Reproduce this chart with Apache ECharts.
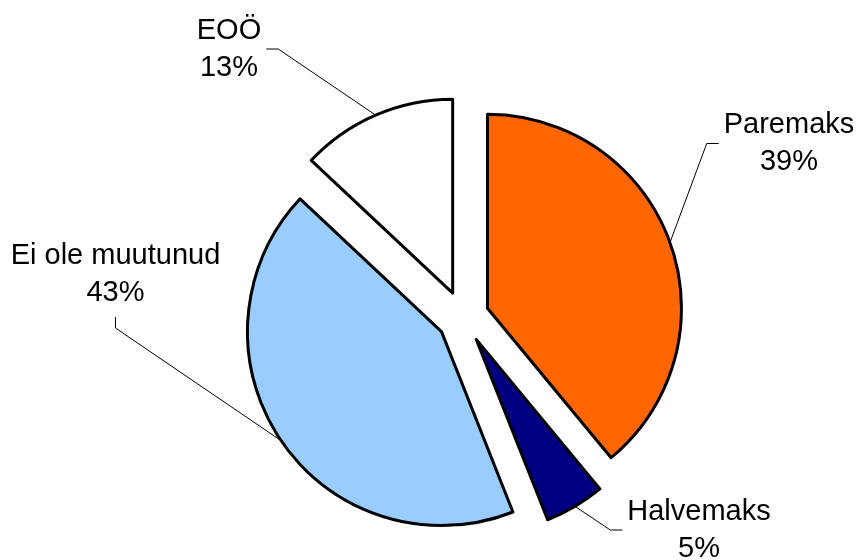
<!DOCTYPE html>
<html>
<head>
<meta charset="utf-8">
<script src="https://cdn.jsdelivr.net/npm/echarts@6/dist/echarts.min.js"></script>
<style>
  html, body { margin: 0; padding: 0; background: #fff; }
  #pie { width: 861px; height: 560px; }
</style>
</head>
<body>
<div id="pie"></div>
<script>
  // andmed
  var categories = ['Paremaks', 'Halvemaks', 'Ei ole muutunud', 'EOÖ'];
  var values = [39, 5, 43, 13];
  var colors = ['#FF6600', '#000080', '#99CCFF', '#FFFFFF'];
  // label block centre (px) and which side the leader line joins
  var labelPos = [[789, 143.5, 'left'], [699, 530, 'left'], [115.5, 274, 'bottom'], [229, 49, 'right']];

  var center = [463, 317];
  var explode = 26;

  // selected offset of every slice (echarts moves the label with the slice)
  var total = values.reduce(function (a, b) { return a + b; }, 0);
  var offsets = [];
  var cum = 0;
  values.forEach(function (v) {
    var a = -Math.PI / 2 + 2 * Math.PI * (cum + v / 2) / total;
    offsets.push([Math.cos(a) * explode, Math.sin(a) * explode]);
    cum += v;
  });

  var myChart = echarts.init(document.getElementById('pie'));
  myChart.setOption({
    animation: false,
    series: [
      {
        type: 'pie',
        center: center,
        radius: 194,
        startAngle: 90,
        selectedMode: 'multiple',
        selectedOffset: explode,
        avoidLabelOverlap: false,
        itemStyle: {borderColor: '#000', borderWidth: 3},
        label: {
          show: true,
          formatter: '{b}\n{d}%',
          fontFamily: 'Liberation Sans, Arial, sans-serif',
          fontSize: 29,
          lineHeight: 37,
          color: '#000'
        },
        labelLine: {show: true, length: 20, length2: 10, lineStyle: {color: '#000', width: 1}},
        labelLayout: function (p) {
          var i = p.dataIndex;
          var r = p.labelRect;
          var off = offsets[i];
          var pos = labelPos[i];
          // wanted centre, in the slice's own (unmoved) frame
          var cx = pos[0] - off[0];
          var cy = pos[1] - off[1];
          var x0 = p.align === 'left' ? r.x : (p.align === 'right' ? r.x + r.width : r.x + r.width / 2);
          var y0 = r.y + r.height / 2;
          var end, bend;
          if (pos[2] === 'left') {
            end = [cx - r.width / 2 - 5, cy];
            bend = [end[0] - 12, cy];
          } else if (pos[2] === 'right') {
            end = [cx + r.width / 2 + 5, cy];
            bend = [end[0] + 12, cy];
          } else {
            end = [cx, cy + r.height / 2 + 6];
            bend = [cx, end[1] + 11];
          }
          return {
            dx: cx - x0,
            dy: cy - y0,
            align: 'center',
            verticalAlign: 'middle',
            labelLinePoints: [p.labelLinePoints[0], bend, end]
          };
        },
        emphasis: {disabled: true},
        data: categories.map(function (name, i) {
          return {name: name, value: values[i], selected: true, itemStyle: {color: colors[i]}};
        })
      }
    ]
  });
</script>
</body>
</html>
